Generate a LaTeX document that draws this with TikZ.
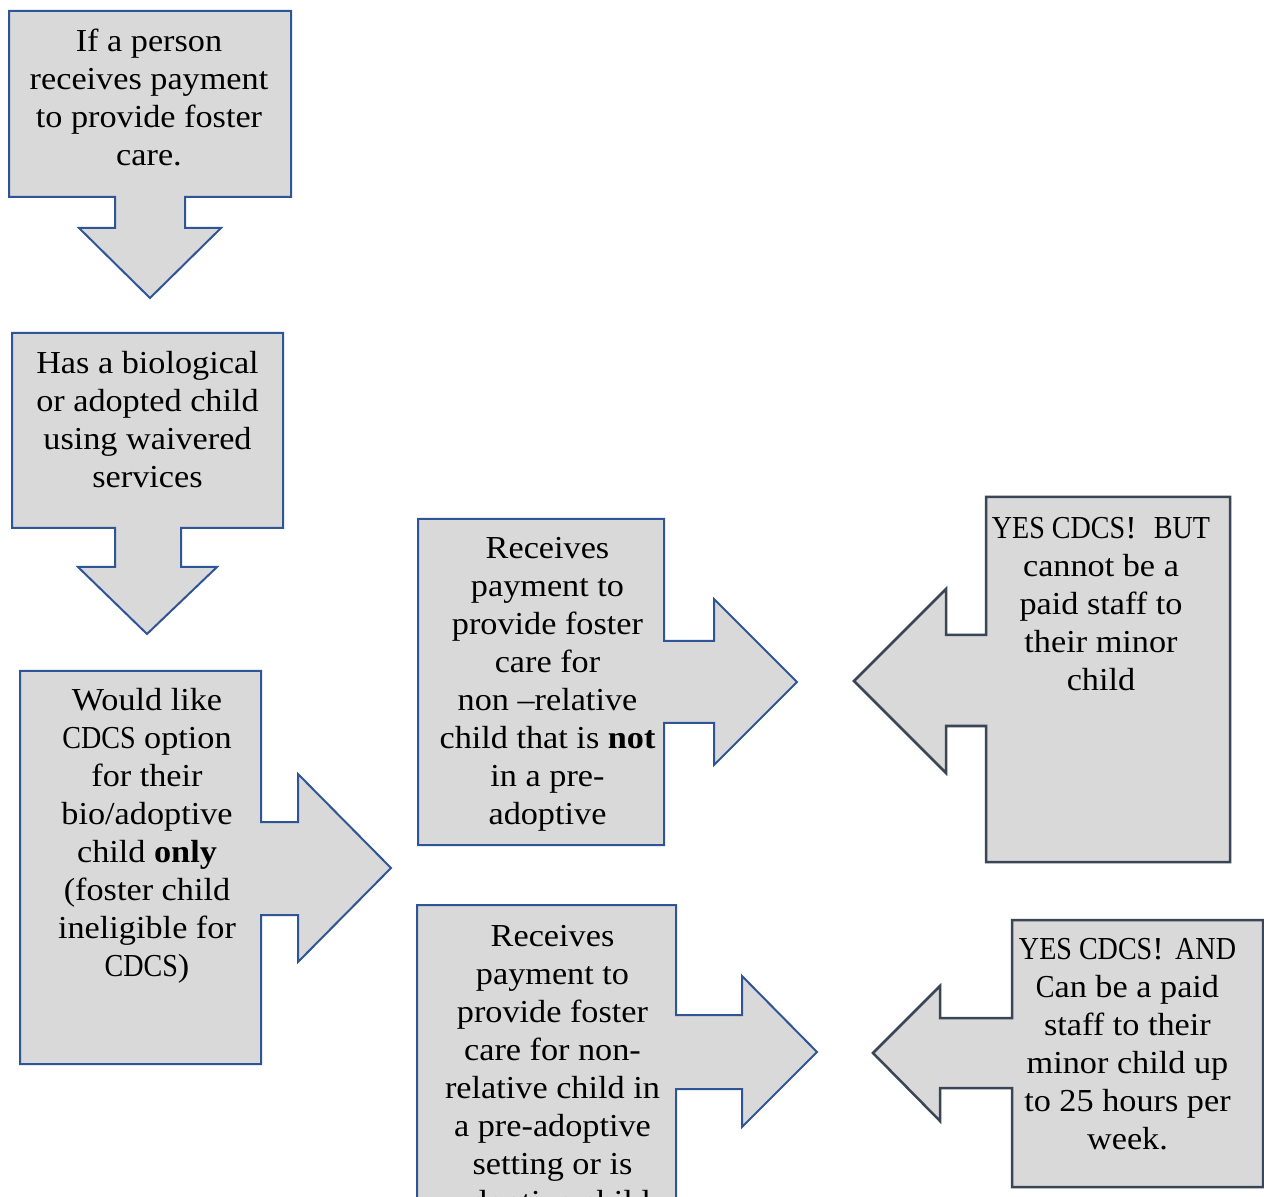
\documentclass[tikz,border=0pt]{standalone}
\usepackage{graphicx}
\usepackage{fontspec}
\setmainfont{Liberation Serif}[FakeStretch=1.07]
\definecolor{boxfill}{HTML}{D9D9D9}
\definecolor{blueline}{HTML}{2F5597}
\definecolor{darkline}{HTML}{3A4556}
\newcommand{\mylines}[1]{\setlength{\tabcolsep}{0pt}\begin{tabular}[t]{c}#1\end{tabular}}
\newcommand{\cc}[1]{\scalebox{0.82}[1]{#1}}
\begin{document}
\begin{tikzpicture}[x=0.5pt,y=-0.5pt,
  bluebox/.style={fill=boxfill, draw=blueline, line width=1pt, line join=miter},
  darkbox/.style={fill=boxfill, draw=darkline, line width=1.25pt, line join=miter},
  txt/.style={anchor=base, inner sep=0pt, font=\fontsize{16}{19}\selectfont}]
\useasboundingbox (0,0) rectangle (1264,1197);
\clip (0,0) rectangle (1264,1197);

% shape 1: down callout
\draw[bluebox] (9,11) -- (291,11) -- (291,197) -- (185,197) -- (185,228) -- (221,228)
  -- (150,298) -- (79,228) -- (115,228) -- (115,197) -- (9,197) -- cycle;
\node[txt] (s1) at (149,52) {\mylines{If a person\\receives payment\\to provide foster\\care.}};

% shape 2: down callout
\draw[bluebox] (12,333) -- (283,333) -- (283,528) -- (181,528) -- (181,567) -- (217,567)
  -- (147,634) -- (78,567) -- (115,567) -- (115,528) -- (12,528) -- cycle;
\node[txt] (s2) at (147.5,374) {\mylines{Has a biological\\or adopted child\\using waivered\\services}};

% shape 3: right callout
\draw[bluebox] (20,671) -- (261,671) -- (261,822) -- (298,822) -- (298,774) -- (391,868)
  -- (298,962) -- (298,915) -- (261,915) -- (261,1064) -- (20,1064) -- cycle;
\node[txt] (s3) at (147,711) {\mylines{Would like\\\cc{CDCS} option\\for their\\bio/adoptive\\child \textbf{only}\\(foster child\\ineligible for\\\cc{CDCS})}};

% shape 4: right callout
\draw[bluebox] (418,519) -- (664,519) -- (664,641) -- (714,641) -- (714,599) -- (797,682)
  -- (714,765) -- (714,723) -- (664,723) -- (664,845) -- (418,845) -- cycle;
\node[txt] (s4) at (547.5,559) {\mylines{Receives\\payment to\\provide foster\\care for\\non –relative\\child that is \textbf{not}\\in a pre-\\adoptive}};

% shape 5: right callout (cut off at bottom)
\draw[bluebox] (417,905) -- (676,905) -- (676,1015) -- (742,1015) -- (742,976) -- (817,1052)
  -- (742,1127) -- (742,1089) -- (676,1089) -- (676,1260) -- (417,1260) -- cycle;
\node[txt] (s5) at (552.5,946) {\mylines{Receives\\payment to\\provide foster\\care for non-\\relative child in\\a pre-adoptive\\setting or is\\adoptive child}};

% shape 6: left callout
\draw[darkbox] (986,497) -- (1230,497) -- (1230,862) -- (986,862) -- (986,726) -- (946,726)
  -- (946,773) -- (854,681) -- (946,589) -- (946,635) -- (986,635) -- cycle;
\node[txt] (s6) at (1101,539) {\mylines{\cc{YES CDCS}!\ \ \cc{BUT}\\cannot be a\\paid staff to\\their minor\\child}};

% shape 7: left callout
\draw[darkbox] (1012,920) -- (1263,920) -- (1263,1187) -- (1012,1187) -- (1012,1088) -- (940,1088)
  -- (940,1121) -- (873,1053) -- (940,986) -- (940,1018) -- (1012,1018) -- cycle;
\node[txt] (s7) at (1127.5,959) {\mylines{\cc{YES CDCS}! \cc{AND}\\\cc{C}an be a paid\\staff to their\\minor child up\\to 25 hours per\\week.}};
\end{tikzpicture}
\end{document}
